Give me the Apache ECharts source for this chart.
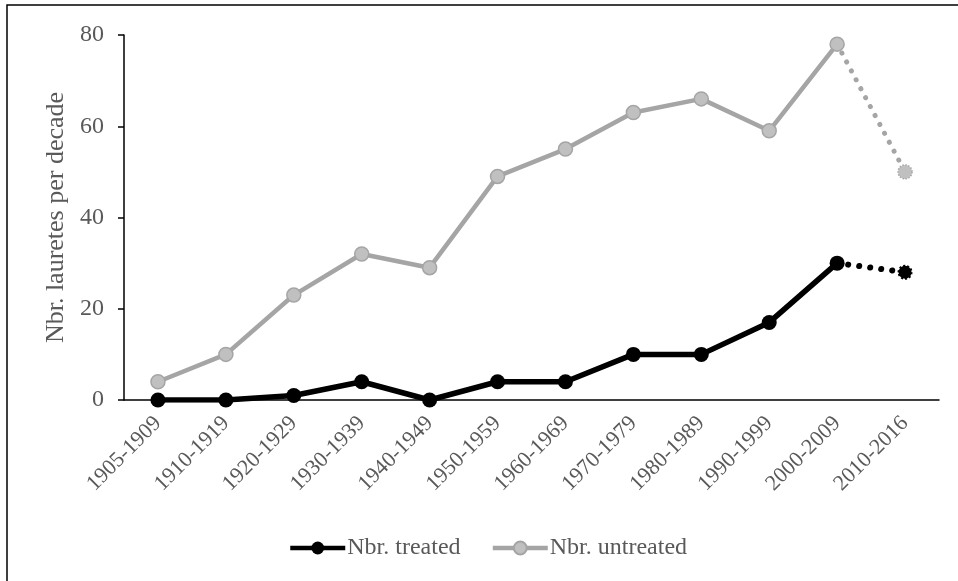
<!DOCTYPE html>
<html>
<head>
<meta charset="utf-8">
<script src="https://cdn.jsdelivr.net/npm/echarts@6/dist/echarts.min.js"></script>
<style>html,body{margin:0;padding:0;background:#fff}#c{width:958px;height:581px}</style>
</head>
<body>
<div id="c"></div>
<script>
const categories = ['1905-1909','1910-1919','1920-1929','1930-1939','1940-1949','1950-1959','1960-1969','1970-1979','1980-1989','1990-1999','2000-2009','2010-2016'];
const treated = [0,0,1,4,0,4,4,10,10,17,30,28];
const untreated = [4,10,23,32,29,49,55,63,66,59,78,50];
const yTicks = [0,20,40,60,80];

const n = categories.length;
function solidPart(arr){ return arr.map((v,i)=> i < n-1 ? v : null); }
function dottedPart(arr){ return arr.map((v,i)=> i >= n-2 ? (i===n-2 ? {value:v, symbol:'none'} : v) : null); }

const font = 'Liberation Serif';
const txt = '#595959';
const gray = '#A5A5A5';
const grayFill = '#C0C0C0';

const chart = echarts.init(document.getElementById('c'));
chart.setOption({
  animation:false,
  backgroundColor:'#fff',
  graphic:[{type:'rect', shape:{x:7,y:5,width:970,height:620}, style:{fill:'none', stroke:'#000', lineWidth:1.5}, silent:true}],
  grid:{left:124,right:19,top:35,bottom:181},
  legend:{
    left:283, top:531, itemWidth:55, itemHeight:16, itemGap:30,
    textStyle:{fontFamily:font,fontSize:24,color:txt,padding:[0,0,0,-3]},
    lineStyle:{width:4.5},
    data:['Nbr. treated','Nbr. untreated']
  },
  xAxis:{
    type:'category', data:categories, boundaryGap:true,
    axisLine:{lineStyle:{color:'#000',width:1.5}},
    axisTick:{show:false},
    axisLabel:{rotate:45, fontFamily:font, fontSize:22, color:txt, margin:20, interval:0}
  },
  yAxis:{
    type:'value', min:yTicks[0], max:yTicks[yTicks.length-1], interval:20,
    name:'Nbr. lauretes per decade', nameLocation:'middle', nameGap:47,
    nameTextStyle:{fontFamily:font,fontSize:26,color:txt},
    axisLine:{show:true,lineStyle:{color:'#000',width:1.5}},
    axisTick:{show:true,length:6,lineStyle:{color:'#000',width:1.5}},
    splitLine:{show:false},
    axisLabel:{fontFamily:font,fontSize:24,color:txt,margin:20}
  },
  series:[
    {name:'Nbr. untreated', type:'line', data:solidPart(untreated), symbol:'circle', symbolSize:14, z:3,
      lineStyle:{color:gray,width:4.5}, itemStyle:{color:grayFill,borderColor:gray,borderWidth:1.5}},
    {name:'untreated-dotted', type:'line', data:dottedPart(untreated), symbol:'circle', symbolSize:14, z:2, connectNulls:false,
      lineStyle:{color:gray,width:5,type:[0.1,10],cap:'round'}, itemStyle:{color:grayFill,borderColor:gray,borderWidth:1.5,borderType:'dotted'}},
    {name:'Nbr. treated', type:'line', data:solidPart(treated), symbol:'circle', symbolSize:15, z:5,
      lineStyle:{color:'#000',width:5.5}, itemStyle:{color:'#000'}},
    {name:'treated-dotted', type:'line', data:dottedPart(treated), symbol:'circle', symbolSize:13, z:4,
      lineStyle:{color:'#000',width:6,type:[0.1,11],cap:'round'}, itemStyle:{color:'#000',borderColor:'#000',borderWidth:2,borderType:'dotted'}}
  ]
});
</script>
</body>
</html>
